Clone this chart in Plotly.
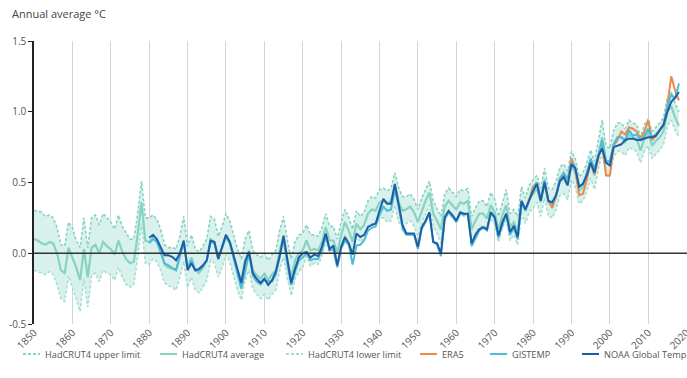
import plotly.graph_objects as go

years = list(range(1850, 2019))

hadcrut_avg = [
    0.10, 0.09, 0.07, 0.06, 0.08, 0.07, 0.00, -0.12, -0.14, 0.04,
    -0.03, -0.10, -0.19, 0.03, -0.17, 0.04, 0.06, 0.00, 0.08, 0.05,
    0.03, -0.01, 0.09, 0.01, -0.04, -0.07, -0.06, 0.13, 0.36, 0.09,
    0.08, 0.11, 0.09, 0.02, -0.08, -0.10, -0.11, -0.12, -0.03, 0.08,
    -0.10, -0.03, -0.12, -0.14, -0.10, -0.05, 0.10, 0.08, -0.03, 0.04,
    0.13, 0.08, -0.02, -0.12, -0.19, -0.05, 0.02, -0.12, -0.155, -0.18,
    -0.145, -0.19, -0.15, -0.12, 0.02, 0.115, -0.05, -0.17, -0.05, 0.00,
    0.02, 0.09, 0.02, 0.03, 0.02, 0.08, 0.185, 0.09, 0.09, 0.00,
    0.125, 0.22, 0.16, 0.08, 0.21, 0.17, 0.20, 0.28, 0.31, 0.30,
    0.36, 0.37, 0.35, 0.37, 0.48, 0.36, 0.30, 0.31, 0.33, 0.29,
    0.22, 0.30, 0.37, 0.43, 0.28, 0.23, 0.17, 0.33, 0.37, 0.34,
    0.31, 0.36, 0.35, 0.37, 0.17, 0.23, 0.28, 0.28, 0.245, 0.34,
    0.29, 0.17, 0.27, 0.34, 0.185, 0.22, 0.16, 0.37, 0.30, 0.385,
    0.42, 0.455, 0.36, 0.49, 0.36, 0.35, 0.41, 0.51, 0.525, 0.48,
    0.62, 0.57, 0.44, 0.47, 0.54, 0.63, 0.55, 0.69, 0.82, 0.655,
    0.64, 0.77, 0.82, 0.82, 0.78, 0.84, 0.82, 0.81, 0.725, 0.81,
    0.855, 0.76, 0.795, 0.82, 0.865, 1.00, 1.04, 0.96, 0.90,
]

hadcrut_upper = [
    0.30, 0.30, 0.29, 0.26, 0.27, 0.25, 0.18, 0.06, 0.05, 0.22,
    0.18, 0.09, 0.04, 0.25, 0.04, 0.25, 0.27, 0.20, 0.28, 0.25,
    0.22, 0.17, 0.27, 0.19, 0.14, 0.10, 0.10, 0.28, 0.51, 0.25,
    0.25, 0.27, 0.24, 0.17, 0.06, 0.04, 0.04, 0.03, 0.12, 0.26,
    0.05, 0.13, 0.03, 0.01, 0.05, 0.10, 0.26, 0.24, 0.12, 0.19,
    0.28, 0.23, 0.13, 0.03, -0.04, 0.10, 0.16, 0.02, -0.01, -0.03,
    0.00, -0.05, -0.01, 0.02, 0.16, 0.26, 0.09, -0.04, 0.08, 0.13,
    0.14, 0.20, 0.13, 0.13, 0.12, 0.18, 0.28, 0.19, 0.19, 0.10,
    0.22, 0.31, 0.25, 0.17, 0.30, 0.26, 0.29, 0.37, 0.40, 0.39,
    0.45, 0.46, 0.44, 0.46, 0.57, 0.46, 0.40, 0.40, 0.42, 0.38,
    0.31, 0.39, 0.45, 0.51, 0.37, 0.32, 0.26, 0.42, 0.46, 0.43,
    0.40, 0.45, 0.44, 0.455, 0.26, 0.32, 0.37, 0.37, 0.33, 0.43,
    0.38, 0.26, 0.36, 0.45, 0.28, 0.31, 0.26, 0.47, 0.39, 0.48,
    0.52, 0.55, 0.46, 0.60, 0.46, 0.45, 0.51, 0.61, 0.63, 0.58,
    0.72, 0.67, 0.54, 0.57, 0.64, 0.73, 0.65, 0.80, 0.94, 0.76,
    0.74, 0.87, 0.92, 0.92, 0.88, 0.94, 0.92, 0.91, 0.82, 0.91,
    0.95, 0.86, 0.89, 0.92, 0.96, 1.10, 1.14, 1.06, 1.00,
]

hadcrut_lower = [
    -0.12, -0.13, -0.14, -0.15, -0.13, -0.15, -0.22, -0.32, -0.34, -0.16,
    -0.24, -0.32, -0.41, -0.18, -0.38, -0.16, -0.14, -0.20, -0.12, -0.14,
    -0.15, -0.19, -0.10, -0.17, -0.22, -0.24, -0.22, -0.03, 0.21, -0.07,
    -0.08, -0.04, -0.06, -0.12, -0.21, -0.23, -0.24, -0.26, -0.17, -0.06,
    -0.24, -0.17, -0.26, -0.28, -0.24, -0.19, -0.05, -0.07, -0.17, -0.10,
    -0.01, -0.06, -0.16, -0.26, -0.33, -0.19, -0.12, -0.25, -0.29, -0.32,
    -0.29, -0.33, -0.29, -0.26, -0.12, -0.03, -0.18, -0.30, -0.18, -0.13,
    -0.10, -0.02, -0.09, -0.07, -0.08, -0.02, 0.09, 0.00, 0.00, -0.10,
    0.03, 0.13, 0.07, -0.01, 0.12, 0.08, 0.11, 0.19, 0.21, 0.20,
    0.25, 0.25, 0.22, 0.23, 0.34, 0.22, 0.19, 0.21, 0.23, 0.19,
    0.12, 0.21, 0.28, 0.34, 0.19, 0.14, 0.07, 0.24, 0.28, 0.25,
    0.22, 0.27, 0.26, 0.28, 0.07, 0.14, 0.19, 0.19, 0.155, 0.25,
    0.20, 0.08, 0.18, 0.25, 0.09, 0.13, 0.06, 0.28, 0.21, 0.29,
    0.32, 0.36, 0.26, 0.39, 0.26, 0.25, 0.31, 0.41, 0.42, 0.38,
    0.52, 0.47, 0.35, 0.37, 0.44, 0.53, 0.45, 0.59, 0.71, 0.56,
    0.54, 0.68, 0.72, 0.72, 0.69, 0.75, 0.73, 0.72, 0.64, 0.72,
    0.76, 0.67, 0.70, 0.73, 0.77, 0.90, 0.94, 0.87, 0.82,
]

noaa_years = list(range(1880, 2019))
noaa = [
    0.11, 0.13, 0.10, 0.045, -0.015, -0.015, -0.025, -0.05, 0.00, 0.09,
    -0.12, -0.07, -0.12, -0.11, -0.085, -0.05, 0.09, 0.08, -0.04, 0.045,
    0.13, 0.08, -0.015, -0.12, -0.21, -0.06, 0.01, -0.14, -0.18, -0.21,
    -0.18, -0.225, -0.19, -0.13, -0.02, 0.125, -0.03, -0.21, -0.11, -0.03,
    0.00, 0.01, -0.03, -0.01, -0.02, 0.045, 0.14, 0.03, 0.055, -0.085,
    0.045, 0.115, 0.07, -0.01, 0.14, 0.115, 0.13, 0.185, 0.20, 0.21,
    0.30, 0.385, 0.35, 0.35, 0.49, 0.35, 0.20, 0.14, 0.14, 0.14,
    0.045, 0.185, 0.23, 0.29, 0.08, 0.07, 0.00, 0.255, 0.30, 0.27,
    0.23, 0.29, 0.28, 0.28, 0.07, 0.13, 0.17, 0.185, 0.17, 0.29,
    0.255, 0.125, 0.22, 0.28, 0.15, 0.195, 0.115, 0.37, 0.31, 0.38,
    0.44, 0.49, 0.37, 0.50, 0.37, 0.36, 0.41, 0.51, 0.54, 0.48,
    0.63, 0.60, 0.47, 0.49, 0.55, 0.64, 0.57, 0.69, 0.74, 0.64,
    0.62, 0.75, 0.76, 0.77, 0.80, 0.81, 0.81, 0.80, 0.80, 0.81,
    0.82, 0.82, 0.83, 0.87, 0.91, 1.00, 1.07, 1.10, 1.14,
]

gistemp_years = list(range(1880, 2019))
gistemp = [
    0.07, 0.10, 0.08, 0.01, -0.07, -0.085, -0.10, -0.12, -0.015, 0.08,
    -0.10, -0.05, -0.12, -0.12, -0.10, -0.05, 0.08, 0.07, -0.04, 0.035,
    0.115, 0.07, -0.04, -0.14, -0.25, -0.13, 0.00, -0.16, -0.20, -0.22,
    -0.19, -0.20, -0.20, -0.15, -0.02, 0.10, -0.08, -0.225, -0.13, -0.05,
    -0.03, 0.00, -0.05, -0.04, -0.04, 0.02, 0.12, 0.02, 0.03, -0.10,
    0.03, 0.09, 0.06, -0.08, 0.055, 0.06, 0.09, 0.16, 0.18, 0.19,
    0.27, 0.33, 0.30, 0.31, 0.45, 0.33, 0.17, 0.13, 0.13, 0.13,
    0.03, 0.17, 0.22, 0.28, 0.08, 0.06, -0.02, 0.24, 0.29, 0.26,
    0.22, 0.28, 0.27, 0.28, 0.05, 0.11, 0.16, 0.18, 0.16, 0.28,
    0.25, 0.11, 0.20, 0.28, 0.13, 0.18, 0.10, 0.36, 0.30, 0.37,
    0.45, 0.50, 0.38, 0.52, 0.37, 0.35, 0.41, 0.53, 0.57, 0.52,
    0.64, 0.61, 0.47, 0.49, 0.57, 0.67, 0.60, 0.69, 0.80, 0.64,
    0.655, 0.77, 0.82, 0.82, 0.80, 0.87, 0.83, 0.84, 0.80, 0.83,
    0.88, 0.82, 0.84, 0.87, 0.91, 1.04, 1.125, 1.09, 1.20,
]

era5_years = list(range(1979, 2019))
era5 = [
    0.38, 0.47, 0.50, 0.38, 0.51, 0.37, 0.32, 0.40, 0.53, 0.56,
    0.52, 0.67, 0.60, 0.41, 0.42, 0.52, 0.65, 0.56, 0.67, 0.78,
    0.55, 0.55, 0.76, 0.80, 0.86, 0.84, 0.89, 0.88, 0.86, 0.81,
    0.86, 0.94, 0.80, 0.83, 0.87, 0.90, 1.05, 1.25, 1.15, 1.08,
]

x_ticks = list(range(1850, 2021, 10))
y_ticks = [-0.5, 0.0, 0.5, 1.0, 1.5]
y_tick_labels = ["-0.5", "0.0", "0.5", "1.0", "1.5"]

series_names = ["HadCRUT4 upper limit", "HadCRUT4 average", "HadCRUT4 lower limit",
                "ERA5", "GISTEMP", "NOAA Global Temp"]

C_HAD = "#86d3c2"
C_HAD_LIGHT = "#a6dfd2"
C_FILL = "#d9f1ec"
C_ERA = "#f0884a"
C_GIS = "#4dbcd6"
C_NOAA = "#1f5ea6"
FONT = "Open Sans"

W, H = 687, 378
ML, MR, MT, MB = 34, 0, 41, 54
PW, PH = W - ML - MR, H - MT - MB


def px(xpix):
    return (xpix - ML) / PW


def py(ypix):
    return (H - MB - ypix) / PH


fig = go.Figure()

fig.add_trace(go.Scatter(x=years, y=hadcrut_upper, mode="lines", line=dict(width=0),
                         showlegend=False, hoverinfo="skip"))
fig.add_trace(go.Scatter(x=years, y=hadcrut_lower, mode="lines", line=dict(width=0),
                         fill="tonexty", fillcolor=C_FILL, showlegend=False, hoverinfo="skip"))

styles = [
    dict(color=C_HAD, width=1.6, dash="3px,2px"),
    dict(color=C_HAD, width=2.2),
    dict(color=C_HAD_LIGHT, width=1.6, dash="3px,2px"),
    dict(color=C_ERA, width=2),
    dict(color=C_GIS, width=2),
    dict(color=C_NOAA, width=2),
]
data = [(years, hadcrut_upper), (years, hadcrut_avg), (years, hadcrut_lower),
        (era5_years, era5), (gistemp_years, gistemp), (noaa_years, noaa)]
draw_order = [0, 2, 1, 3, 4, 5]
for i in draw_order:
    xs, ys = data[i]
    fig.add_trace(go.Scatter(x=xs, y=ys, mode="lines", name=series_names[i],
                             line=styles[i], showlegend=False))

# manual legend (one row at the bottom)
legend_x = [23, 160, 286, 420, 490, 582]
legend_y = 354
shapes = []
annotations = []
for i, lx in enumerate(legend_x):
    st = styles[i]
    shapes.append(dict(type="line", xref="paper", yref="paper",
                       x0=px(lx), x1=px(lx + 17), y0=py(legend_y), y1=py(legend_y),
                       line=dict(color=st["color"], width=2,
                                 dash=st.get("dash", "solid"))))
    annotations.append(dict(text=series_names[i], xref="paper", yref="paper",
                            x=px(lx + 20), y=py(legend_y), xanchor="left", yanchor="middle",
                            showarrow=False, font=dict(size=9.2, color="#555555", family=FONT)))

# zero line drawn over the band
shapes.append(dict(type="line", xref="paper", yref="y", x0=0, x1=1, y0=0, y1=0,
                   layer="above", line=dict(color="#333333", width=1.5)))

annotations.append(dict(text="Annual average °C", xref="paper", yref="paper",
                        x=px(10), y=py(14), xanchor="left", yanchor="middle",
                        showarrow=False, font=dict(size=11, color="#444444", family=FONT)))

fig.update_layout(
    width=W, height=H,
    margin=dict(l=ML, r=MR, t=MT, b=MB),
    paper_bgcolor="white", plot_bgcolor="white",
    font=dict(family=FONT, size=10, color="#555555"),
    showlegend=False,
    xaxis=dict(range=[1850, 2020.1], tickmode="array", tickvals=x_ticks,
               ticktext=[str(t) for t in x_ticks], tickangle=-45,
               ticklabeloverflow="allow",
               showgrid=True, gridcolor="#d4d4d4", gridwidth=1,
               showline=False, zeroline=False, ticks="", automargin=False,
               tickfont=dict(size=10, color="#555555")),
    yaxis=dict(range=[-0.5, 1.5], tickmode="array", tickvals=y_ticks, ticktext=y_tick_labels,
               showgrid=False, zeroline=False,
               showline=True, linecolor="#222222", linewidth=1.5,
               ticks="outside", ticklen=4, tickcolor="#222222", automargin=False,
               tickfont=dict(size=10, color="#555555")),
    shapes=shapes,
    annotations=annotations,
)

fig.write_html("out.html", config={"displayModeBar": False},
               post_script="document.body.style.margin='0';document.body.style.overflow='hidden';")
